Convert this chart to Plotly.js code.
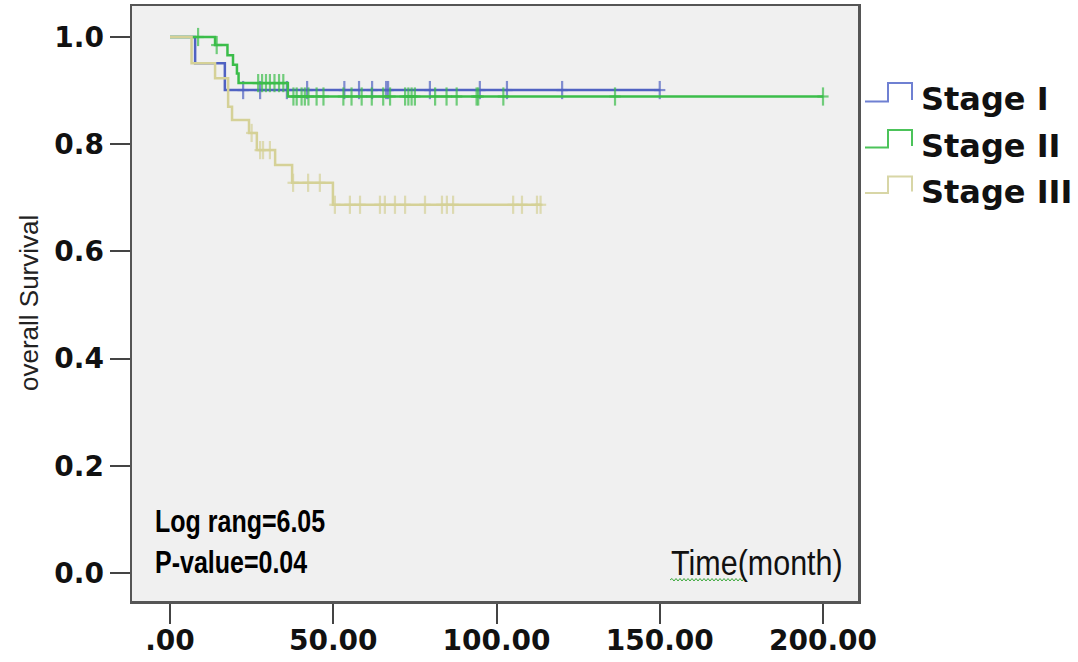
<!DOCTYPE html>
<html>
<head>
<meta charset="utf-8">
<script src="https://cdn.plot.ly/plotly-3.0.1.min.js"></script>
<style>html,body{margin:0;padding:0;background:#fff;}#chart{width:1078px;height:662px;}</style>
</head>
<body>
<div id="chart"></div>
<script>
// ---- Data ----
const groupNames = ["Stage I", "Stage II", "Stage III"];

// Kaplan-Meier step points: time (months) and survival after that time
const stageI_time = [0, 7.7, 16.8, 150];
const stageI_surv = [1.0, 0.951, 0.901, 0.901];
const stageI_censor = [22.4, 27.6, 35.8, 42.0, 53.4, 57.9, 61.9, 66.2, 66.8, 79.6, 94.9, 103.2, 120.1, 150.0];

const stageII_time = [0, 13.8, 17.6, 19.3, 20.5, 21.0, 36.1, 200];
const stageII_surv = [1.0, 0.985, 0.966, 0.948, 0.932, 0.914, 0.889, 0.889];
const stageII_censor = [8.6, 14.3, 27.0, 28.2, 29.4, 30.6, 32.0, 33.4, 34.7,
  37.8, 38.8, 40.3, 41.3, 42.4, 44.9, 47.0, 53.1, 55.6, 58.7, 61.8, 65.3, 67.4,
  72.0, 73.0, 74.0, 75.0, 81.2, 84.7, 87.8, 93.9, 94.4, 102.1, 136.3, 200.0];

const stageIII_time = [0, 6.6, 13.8, 17.8, 19.0, 24.2, 26.6, 32.2, 37.4, 49.9, 113.5];
const stageIII_surv = [1.0, 0.951, 0.923, 0.870, 0.845, 0.821, 0.789, 0.761, 0.728, 0.687, 0.687];
const stageIII_censor = [25.0, 27.6, 28.5, 30.6, 37.7, 42.3, 45.9, 50.5, 55.1, 58.2, 64.3,
  65.8, 68.9, 72.0, 78.1, 83.3, 84.8, 86.7, 105.1, 107.8, 112.4, 113.5];

const xTickVals = [0, 50, 100, 150, 200];
const xTickText = [".00", "50.00", "100.00", "150.00", "200.00"];
const yTickVals = [0, 0.2, 0.4, 0.6, 0.8, 1.0];
const yTickText = ["0.0", "0.2", "0.4", "0.6", "0.8", "1.0"];

const statLines = ["Log rang=6.05", "P-value=0.04"];
const xTitle = "Time(month)";
const yTitle = "overall Survival";

// ---- Styling ----
const lineColors = ["#5062c2", "#3bbd4a", "#d5d197"];
const legendColors = ["#6f80d2", "#4cc35a", "#d8d6a6"];

function survAt(times, surv, t) {
  let s = surv[0];
  for (let i = 0; i < times.length; i++) { if (times[i] <= t) s = surv[i]; }
  return s;
}

const groups = [
  [stageI_time, stageI_surv, stageI_censor],
  [stageII_time, stageII_surv, stageII_censor],
  [stageIII_time, stageIII_surv, stageIII_censor]
];

const traces = [];
groups.forEach((g, k) => {
  const [t, s, c] = g;
  traces.push({
    x: t, y: s, type: "scatter", mode: "lines",
    line: {shape: "hv", color: lineColors[k], width: 2.5},
    name: groupNames[k], showlegend: false, hoverinfo: "skip"
  });
  const cy = c.map(v => survAt(t, s, v));
  traces.push({
    x: c.concat(c), y: cy.concat(cy), type: "scatter", mode: "markers",
    marker: {
      symbol: c.map(() => "line-ns").concat(c.map(() => "line-ew")),
      size: c.map(() => 13).concat(c.map(() => 8)),
      color: lineColors[k],
      line: {color: lineColors[k], width: 2.2}
    },
    showlegend: false, hoverinfo: "skip"
  });
});

// pixel -> paper helpers for decorations
const L = 132, R = 858, T = 6, B = 601;
function px(x) { return (x - L) / (R - L); }
function py(y) { return (B - y) / (B - T); }

const shapes = [];
const annotations = [];
const legendY = [[101.5, 83], [147.5, 130], [193, 176.5]];
groupNames.forEach((n, k) => {
  const [lo, hi] = legendY[k];
  shapes.push({
    type: "path", xref: "paper", yref: "paper",
    path: `M${px(865)},${py(lo)} L${px(888)},${py(lo)} L${px(888)},${py(hi)} L${px(912)},${py(hi)} L${px(912)},${py(lo - 1.5)}`,
    line: {color: legendColors[k], width: 2}
  });
  annotations.push({
    xref: "paper", yref: "paper", x: px(919), y: py((lo + hi) / 2 + 7),
    xanchor: "left", yanchor: "middle", showarrow: false, text: n,
    font: {family: "DejaVu Sans", size: 32, weight: "bold", color: "#111"}
  });
});

const narrow = "Liberation Sans, Arial, sans-serif";
// statistics text
annotations.push({
  xref: "paper", yref: "paper", x: px(153), y: py(521), xanchor: "left", yanchor: "middle",
  showarrow: false, text: statLines[0],
  font: {family: narrow, size: 25, weight: "bold", color: "#000"}
});
annotations.push({
  xref: "paper", yref: "paper", x: px(153), y: py(562), xanchor: "left", yanchor: "middle",
  showarrow: false, text: statLines[1],
  font: {family: narrow, size: 25, weight: "bold", color: "#000"}
});
// x title (inside plot, bottom right)
annotations.push({
  xref: "paper", yref: "paper", x: px(669), y: py(563), xanchor: "left", yanchor: "middle",
  showarrow: false, text: xTitle,
  font: {family: narrow, size: 30.5, color: "#111"}
});
// y title
annotations.push({
  xref: "paper", yref: "paper", x: px(29), y: py(303), xanchor: "center", yanchor: "middle",
  showarrow: false, text: yTitle, textangle: -90,
  font: {family: narrow, size: 26, color: "#222"}
});

// green wavy spell-check underline under "Time"
let wave = `M${px(670)},${py(580)}`;
for (let xx = 672, up = true; xx <= 746; xx += 2, up = !up) {
  wave += ` L${px(xx)},${py(up ? 578.5 : 581)}`;
}
shapes.push({type: "path", xref: "paper", yref: "paper", path: wave, line: {color: "#3aa83a", width: 1}});

const axisFont = {family: "DejaVu Sans", size: 28, weight: "bold", color: "#111"};
const layout = {
  width: 1078, height: 662,
  margin: {l: L, r: 1078 - R, t: T, b: 662 - B, pad: 0},
  paper_bgcolor: "#ffffff", plot_bgcolor: "#f0f0f0",
  showlegend: false,
  xaxis: {
    range: [(L - 170) / 3.265, (R - 170) / 3.265],
    tickvals: xTickVals, ticktext: xTickText,
    ticks: "outside", ticklen: 20, tickwidth: 2, tickcolor: "#444",
    ticklabelstandoff: -7,
    showline: true, mirror: true, linecolor: "#555", linewidth: 2.5,
    showgrid: false, zeroline: false, tickfont: axisFont, fixedrange: true
  },
  yaxis: {
    range: [-(B - 573) / 536, 1 + (37 - T) / 536],
    tickvals: yTickVals, ticktext: yTickText,
    ticks: "outside", ticklen: 20, tickwidth: 2, tickcolor: "#444",
    showline: true, mirror: true, linecolor: "#555", linewidth: 2.5,
    showgrid: false, zeroline: false, tickfont: axisFont, fixedrange: true
  },
  shapes: shapes,
  annotations: annotations
};

// vertical stretch factors to imitate the narrow (condensed) face of the reference
const stretch = {};
stretch[statLines[0]] = 1.25;
stretch[statLines[1]] = 1.25;
stretch[xTitle] = 1.12;

Plotly.newPlot("chart", traces, layout, {displayModeBar: false, staticPlot: true}).then(gd => {
  gd.querySelectorAll("text.annotation-text").forEach(el => {
    const s = stretch[el.textContent];
    if (!s) return;
    const bb = el.getBBox();
    const cy = bb.y + bb.height / 2;
    el.setAttribute("transform", `translate(0, ${cy * (1 - s)}) scale(1, ${s})`);
  });
});
</script>
</body>
</html>
